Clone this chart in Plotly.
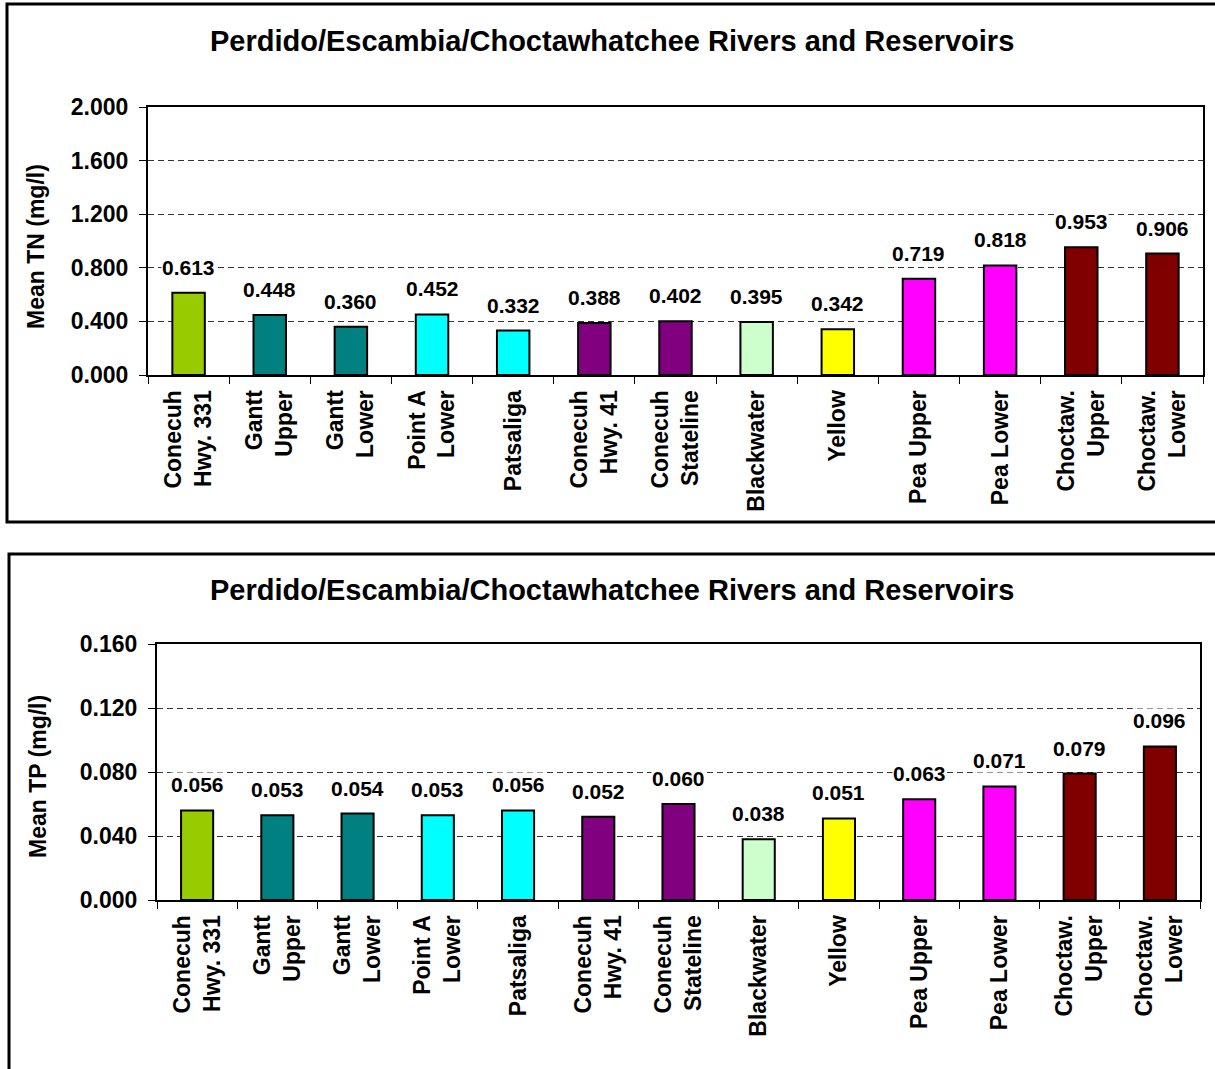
import plotly.graph_objects as go

# Sampling sites (line breaks used in the rotated axis labels)
sites = ["Conecuh<br>Hwy. 331", "Gantt<br>Upper", "Gantt<br>Lower", "Point A<br>Lower",
         "Patsaliga", "Conecuh<br>Hwy. 41", "Conecuh<br>Stateline", "Blackwater",
         "Yellow", "Pea Upper", "Pea Lower", "Choctaw.<br>Upper", "Choctaw.<br>Lower"]

mean_tn = [0.613, 0.448, 0.360, 0.452, 0.332, 0.388, 0.402, 0.395, 0.342,
           0.719, 0.818, 0.953, 0.906]
mean_tp = [0.056, 0.053, 0.054, 0.053, 0.056, 0.052, 0.060, 0.038, 0.051,
           0.063, 0.071, 0.079, 0.096]

site_colors = ["#99CC00", "#008080", "#008080", "#00FFFF", "#00FFFF", "#800080",
               "#800080", "#CCFFCC", "#FFFF00", "#FF00FF", "#FF00FF", "#800000", "#800000"]

chart_title = "Perdido/Escambia/Choctawhatchee Rivers and Reservoirs"
tn_ticks = [0.0, 0.4, 0.8, 1.2, 1.6, 2.0]
tp_ticks = [0.0, 0.04, 0.08, 0.12, 0.16]

W, H = 1215, 1069
FONT = "Liberation Sans, Arial, Helvetica, sans-serif"


def px_x(p):
    return p / W


def px_y(p):
    return 1 - p / H


fig = go.Figure()

fig.add_trace(go.Bar(x=sites, y=mean_tn, marker=dict(color=site_colors, line=dict(color="black", width=2)),
                     xaxis="x", yaxis="y", showlegend=False, hoverinfo="x+y"))
fig.add_trace(go.Bar(x=sites, y=mean_tp, marker=dict(color=site_colors, line=dict(color="black", width=2)),
                     xaxis="x2", yaxis="y2", showlegend=False, hoverinfo="x+y"))

tick_font = dict(family=FONT, size=23, color="black", weight="bold")

xaxis_common = dict(type="category", tickangle=-90, tickson="boundaries", ticks="outside",
                    ticklen=7, tickwidth=1, tickcolor="black", showline=True, linecolor="black",
                    linewidth=2, mirror=True, showgrid=False, tickfont=tick_font, fixedrange=True,
                    automargin=False, ticklabelstandoff=4)
yaxis_common = dict(ticks="outside", ticklen=7, tickwidth=1, tickcolor="black", showline=True,
                    linecolor="black", linewidth=2, mirror=True, showgrid=True, gridcolor="#333333",
                    gridwidth=1, griddash="6px,4px", zeroline=False, tickfont=tick_font,
                    tickformat=".3f", fixedrange=True, automargin=False, ticklabelstandoff=6)

fig.update_layout(
    template="none",
    width=W, height=H,
    margin=dict(l=0, r=0, t=0, b=0, autoexpand=False),
    paper_bgcolor="white", plot_bgcolor="white",
    bargap=0.6,
    font=dict(family=FONT, color="black"),
    xaxis=dict(domain=[px_x(148), px_x(1203)], anchor="y", **xaxis_common),
    yaxis=dict(domain=[px_y(375), px_y(107)], anchor="x", range=[0, 2.0],
               tickvals=tn_ticks, **yaxis_common),
    xaxis2=dict(domain=[px_x(157), px_x(1200)], anchor="y2", **xaxis_common),
    yaxis2=dict(domain=[px_y(900), px_y(644)], anchor="x2", range=[0, 0.16],
                tickvals=tp_ticks, **yaxis_common),
)

annotations = []
label_font = dict(family=FONT, size=21, color="black", weight="bold")

# value labels above each bar
for xa, ya, vals in (("x", "y", mean_tn), ("x2", "y2", mean_tp)):
    for s, v in zip(sites, vals):
        annotations.append(dict(x=s, y=v, xref=xa, yref=ya, text=f"{v:.3f}", showarrow=False,
                                yanchor="bottom", yshift=13, font=label_font, bgcolor="white",
                                borderpad=0))

# chart titles
title_font = dict(family=FONT, size=29, color="black", weight="bold")
for cy in (41, 590):
    annotations.append(dict(x=px_x(612), y=px_y(cy), xref="paper", yref="paper", text=chart_title,
                            showarrow=False, xanchor="center", yanchor="middle", font=title_font))

# y-axis titles
axis_title_font = dict(family=FONT, size=23, color="black", weight="bold")
annotations.append(dict(x=px_x(36), y=px_y(247), xref="paper", yref="paper", text="Mean TN (mg/l)",
                        showarrow=False, textangle=-90, xanchor="center", yanchor="middle",
                        font=axis_title_font))
annotations.append(dict(x=px_x(38), y=px_y(777), xref="paper", yref="paper", text="Mean TP (mg/l)",
                        showarrow=False, textangle=-90, xanchor="center", yanchor="middle",
                        font=axis_title_font))

fig.update_layout(annotations=annotations)

# chart-area frames
fig.add_shape(type="rect", xref="paper", yref="paper", x0=px_x(7), x1=1.02, y0=px_y(522), y1=px_y(4),
              line=dict(color="black", width=3), fillcolor="rgba(0,0,0,0)", layer="below")
fig.add_shape(type="rect", xref="paper", yref="paper", x0=px_x(9), x1=1.02, y0=-0.02, y1=px_y(554),
              line=dict(color="black", width=3), fillcolor="rgba(0,0,0,0)", layer="below")

fig.write_html("out.html")
